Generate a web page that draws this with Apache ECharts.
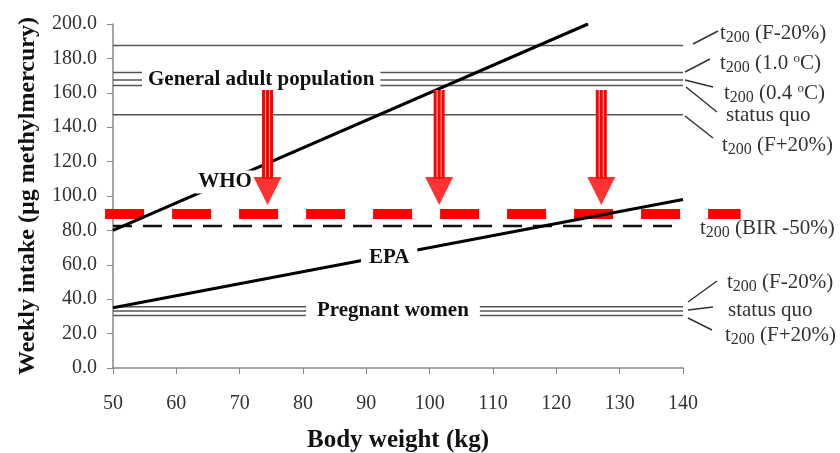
<!DOCTYPE html>
<html>
<head>
<meta charset="utf-8">
<script src="https://cdn.jsdelivr.net/npm/echarts@6/dist/echarts.min.js"></script>
<style>html,body{margin:0;padding:0;background:#fff}#c{width:840px;height:453px}</style>
</head>
<body>
<div id="c"></div>
<script>
// ---- data ----
const xTicks = [50, 60, 70, 80, 90, 100, 110, 120, 130, 140];
const yTicks = [0, 20, 40, 60, 80, 100, 120, 140, 160, 180, 200];
const whoLine = [[50, 80], [125, 200]];
const epaLine = [[50, 35], [140, 98]];
const adultScenarios = ['t200 (F-20%)', 't200 (1.0 °C)', 't200 (0.4 °C)', 'status quo', 't200 (F+20%)'];
const adultIntake = [187.5, 171.8, 167.4, 164.2, 147.3];
const pregnantScenarios = ['t200 (F-20%)', 'status quo', 't200 (F+20%)'];
const pregnantIntake = [35.6, 33.1, 30.5];
const birScenario = 't200 (BIR -50%)';
const birIntake = 82.5;
const redLevel = 89.5;
const redSpan = [48.75, 149.1];
const arrowWeights = [74.4, 101.5, 127.1];
const arrowTop = 161.6;
const arrowShaftEnd = 110;
const arrowHeadCenter = 102.9;

const SERIF = '"Liberation Serif", "Times New Roman", serif';
const chart = echarts.init(document.getElementById('c'));
const xMin = 50, xMax = 140;

const series = [];
function hline(y, extra) {
  return Object.assign({
    type: 'line', data: [[xMin, y], [xMax, y]], symbol: 'none', silent: true,
    lineStyle: { color: '#555', width: 1.5 }, z: 2, animation: false
  }, extra || {});
}
adultIntake.forEach(v => series.push(hline(v)));
pregnantIntake.forEach(v => series.push(hline(v)));
series.push(hline(birIntake, { lineStyle: { color: '#111', width: 2.5, type: [19, 11] }, z: 2 }));
// WHO & EPA lines
series.push({ type: 'line', data: whoLine, symbol: 'none', lineStyle: { color: '#000', width: 3 }, z: 4, animation: false });
series.push({ type: 'line', data: epaLine, symbol: 'none', lineStyle: { color: '#000', width: 3 }, z: 4, animation: false });
// in-plot labels
const labelCommon = { show: true, position: 'inside', fontFamily: SERIF, fontWeight: 'bold', fontSize: 21, color: '#111',
  backgroundColor: '#fff', textBorderWidth: 0, textBorderColor: 'transparent', opacity: 1 };
series.push({
  type: 'scatter', symbolSize: 0, z: 5, animation: false, silent: true,
  itemStyle: { color: 'transparent' },
  data: [
    { name: 'General adult population', value: [73.4, 167.6], label: Object.assign({}, labelCommon, { padding: [1, 6] }) },
    { name: 'Pregnant women', value: [94.2, 33.1], label: Object.assign({}, labelCommon, { padding: [1, 11] }) },
    { name: 'WHO', value: [67.7, 108.1], label: Object.assign({}, labelCommon, { padding: [1, 3] }) },
    { name: 'EPA', value: [93.6, 64.0], label: Object.assign({}, labelCommon, { padding: [1, 8] }) }
  ],
  label: { formatter: p => p.name }
});
// arrows
arrowWeights.forEach(w => {
  series.push({ type: 'line', data: [[w, arrowTop], [w, arrowShaftEnd]], symbol: 'none',
    lineStyle: { color: '#ff0000', width: 11, cap: 'butt' }, z: 6, animation: false });
  [-0.32, 0.32].forEach(d => series.push({ type: 'line', data: [[w + d, arrowTop], [w + d, arrowShaftEnd]], symbol: 'none',
    lineStyle: { color: '#ffd0d0', width: 1, cap: 'butt' }, z: 7, animation: false }));
});
series.push({
  type: 'scatter', data: arrowWeights.map(w => [w, arrowHeadCenter]), symbol: 'triangle', symbolRotate: 180,
  symbolSize: [28, 28], itemStyle: { color: '#ff0000' }, z: 8, animation: false, silent: true
});

// right-side annotations
function ann(text, x, y) {
  return { type: 'text', x: x, y: y, z: 10, style: { text: text, fill: '#333', font: '21px ' + SERIF, verticalAlign: 'middle',
    rich: { m: { fontSize: 21, fontFamily: SERIF, fill: '#333' }, s: { fontSize: 16, fontFamily: SERIF, fill: '#333', padding: [9, 0, 0, 0] }, o: { fontSize: 13, fontFamily: SERIF, fill: '#333', padding: [0, 0, 9, 0] } } } };
}
function t200(rest) { return '{m|t}{s|200}{m| ' + rest + '}'; }
function lead(x1, y1, x2, y2) { return { type: 'line', z: 10, shape: { x1, y1, x2, y2 }, style: { stroke: '#333', lineWidth: 1.5 } }; }
const graphics = [
  ann(t200('(F-20%)'), 720, 33), lead(693, 44, 718, 31),
  ann('{m|t}{s|200}{m| (1.0 }{o|o}{m|C)}', 720, 63), lead(685, 72, 710, 59),
  ann('{m|t}{s|200}{m| (0.4 }{o|o}{m|C)}', 724, 93), lead(685, 80, 713, 87),
  ann('{m|status quo}', 726, 115), lead(686, 87, 717, 112),
  ann(t200('(F+20%)'), 722, 145), lead(685, 116, 713, 138),
  ann(t200('(BIR -50%)'), 700, 228),
  ann(t200('(F-20%)'), 727, 282), lead(688, 302, 717, 281),
  ann('{m|status quo}', 728, 310), lead(688, 310, 713, 307),
  ann(t200('(F+20%)'), 725, 335), lead(688, 318, 712, 330)
];

const option = {
  animation: false,
  backgroundColor: '#fff',
  grid: { left: 113, right: 157, top: 24, bottom: 85, containLabel: false, outerBoundsMode: 'none' },
  xAxis: {
    type: 'value', min: xMin, max: xMax, interval: 10,
    name: 'Body weight (kg)', nameLocation: 'middle', nameGap: 60,
    nameTextStyle: { fontFamily: SERIF, fontWeight: 'bold', fontSize: 25, color: '#111' },
    axisLine: { show: true, onZero: false, lineStyle: { color: '#888', width: 1.5 } },
    axisTick: { show: true, length: 6, lineStyle: { color: '#888' } },
    axisLabel: { fontFamily: SERIF, fontSize: 20, color: '#333', margin: 26, formatter: v => String(v) },
    splitLine: { show: false }
  },
  yAxis: {
    type: 'value', min: 0, max: 200, interval: 20,
    name: 'Weekly intake (µg methylmercury)', nameLocation: 'middle', nameGap: 73, nameRotate: 90,
    nameTextStyle: { fontFamily: SERIF, fontWeight: 'bold', fontSize: 24, color: '#111' },
    axisLine: { show: true, lineStyle: { color: '#888', width: 1.5 } },
    axisTick: { show: true, length: 6, lineStyle: { color: '#888' } },
    axisLabel: { fontFamily: SERIF, fontSize: 20, color: '#333', margin: 16, formatter: v => v.toFixed(1) },
    splitLine: { show: false }
  },
  series: series,
  graphic: graphics
};
chart.setOption(option);

// red dashed limit line: endpoints mapped through the chart's own scales (extends past the plot as in the reference)
const p1 = chart.convertToPixel({ gridIndex: 0 }, [redSpan[0], redLevel]);
const p2 = chart.convertToPixel({ gridIndex: 0 }, [redSpan[1], redLevel]);
chart.setOption({
  graphic: graphics.concat([{
    type: 'line', z: 3, shape: { x1: p1[0], y1: p1[1], x2: p2[0], y2: p2[1] },
    style: { stroke: '#ff0000', lineWidth: 10, lineDash: [39, 28], lineCap: 'butt' }
  }])
});
</script>
</body>
</html>
